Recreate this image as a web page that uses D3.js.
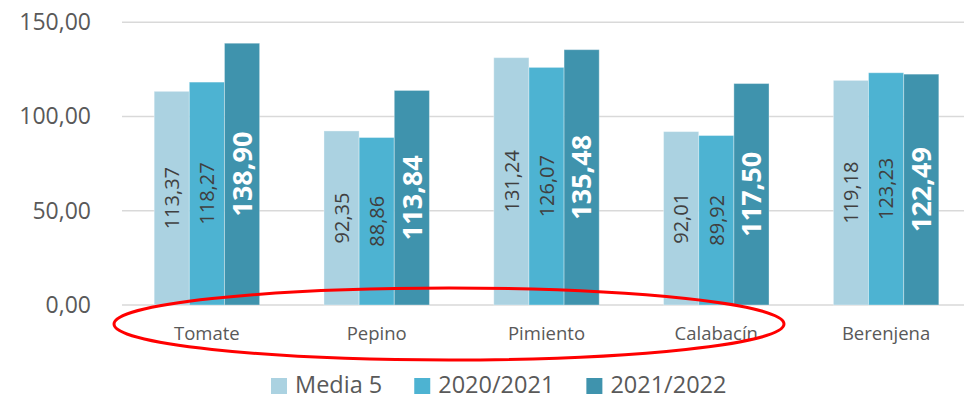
<!DOCTYPE html>
<html>
<head>
<meta charset="utf-8">
<script src="https://cdn.jsdelivr.net/npm/d3@7"></script>
<style>
    body { margin: 0; background: #fff; }
    svg { display: block; font-family: "Open Sans", sans-serif; }
</style>
</head>
<body>
<div id="chart"></div>
<script>
// categories and series
const categories = ['Tomate', 'Pepino', 'Pimiento', 'Calabacín', 'Berenjena'];
const seriesNames = ['Media 5', '2020/2021', '2021/2022'];
const media5 = [113.37, 92.35, 131.24, 92.01, 119.18];
const s2021 = [118.27, 88.86, 126.07, 89.92, 123.23];
const s2022 = [138.90, 113.84, 135.48, 117.50, 122.49];
const yTicks = [0, 50, 100, 150];

const colors = ['#abd2e1', '#4db3d2', '#3f93ad'];

// set the dimensions and margins of the graph
const W = 964, H = 400;
const margin = {top: 22.3, right: -7, left: 122};
const zeroY = 305;

const svg = d3.select('#chart').append('svg')
    .attr('width', W)
    .attr('height', H);

// comma decimals, like the original
const fmt = v => v.toFixed(2).replace('.', ',');

// build one table for the grouped bars
const table = categories.map((c, i) => ({
    cat: c,
    values: [media5[i], s2021[i], s2022[i]]
}));

//************** AXES ******************//
const x0 = d3.scaleBand()
    .domain(categories)
    .range([margin.left, W - margin.right])
    .paddingInner(0)
    .paddingOuter(0);

// bars take 62% of each band
const x1 = d3.scaleBand()
    .domain(d3.range(seriesNames.length))
    .range([0, x0.bandwidth() * 0.621])
    .padding(0);

const y = d3.scaleLinear()
    .domain([0, 150])
    .range([zeroY, margin.top]);

// gridlines
svg.append('g')
    .selectAll('line')
    .data(yTicks)
    .join('line')
    .attr('x1', margin.left)
    .attr('x2', W)
    .attr('y1', d => y(d))
    .attr('y2', d => y(d))
    .attr('stroke', '#d9d9d9')
    .attr('stroke-width', 1.5);

// y labels
const yAxis = svg.append('g')
    .attr('transform', `translate(91,0)`)
    .call(d3.axisLeft(y).tickValues(yTicks).tickFormat(fmt).tickSize(0).tickPadding(0));
yAxis.select('.domain').remove();
yAxis.selectAll('text')
    .attr('fill', '#595959')
    .style('font-size', '23px')
    .style('font-family', '"Open Sans", sans-serif');

// category labels
svg.append('g')
    .selectAll('text')
    .data(categories)
    .join('text')
    .attr('x', d => x0(d) + x0.bandwidth() / 2)
    .attr('y', 340)
    .attr('text-anchor', 'middle')
    .attr('fill', '#595959')
    .style('font-size', '18.5px')
    .text(d => d);

//************* BARS *************//
const groups = svg.append('g')
    .selectAll('g')
    .data(table)
    .join('g')
    .attr('transform', d => `translate(${x0(d.cat) + (x0.bandwidth() - x1.range()[1]) / 2},0)`);

groups.selectAll('rect')
    .data(d => d.values.map((v, k) => ({k: k, v: v})))
    .join('rect')
    .attr('x', d => x1(d.k))
    .attr('width', x1.bandwidth())
    .attr('y', d => y(d.v))
    .attr('height', d => y(0) - y(d.v))
    .attr('fill', d => colors[d.k])
    .attr('stroke', 'rgba(255,255,255,0.35)')
    .attr('stroke-width', 1);

// data labels, rotated and centred in the bar
groups.selectAll('text')
    .data(d => d.values.map((v, k) => ({k: k, v: v})))
    .join('text')
    .attr('transform', d => {
        const cx = x1(d.k) + x1.bandwidth() / 2;
        const cy = (y(d.v) + y(0)) / 2;
        return `translate(${cx},${cy}) rotate(-90)`;
    })
    .attr('text-anchor', 'middle')
    .attr('dy', '0.36em')
    .attr('fill', d => d.k === 2 ? '#ffffff' : '#404040')
    .style('font-size', d => d.k === 2 ? '27px' : '20px')
    .style('font-weight', d => d.k === 2 ? 'bold' : 'normal')
    .text(d => fmt(d.v));

//************* LEGEND *************//
const legend = svg.append('g');
let lx = 271;
seriesNames.forEach((name, k) => {
    legend.append('rect')
        .attr('x', lx)
        .attr('y', 378)
        .attr('width', 16)
        .attr('height', 16)
        .attr('fill', colors[k]);
    const t = legend.append('text')
        .attr('x', lx + 24)
        .attr('y', 393)
        .attr('fill', '#595959')
        .style('font-size', '23.5px')
        .text(name);
    lx = lx + 24 + t.node().getComputedTextLength() + 32;
});

// red ellipse drawn over the category labels
svg.append('ellipse')
    .attr('cx', 449)
    .attr('cy', 324)
    .attr('rx', 335)
    .attr('ry', 36)
    .attr('fill', 'none')
    .attr('stroke', '#ff0000')
    .attr('stroke-width', 3);
</script>
</body>
</html>
